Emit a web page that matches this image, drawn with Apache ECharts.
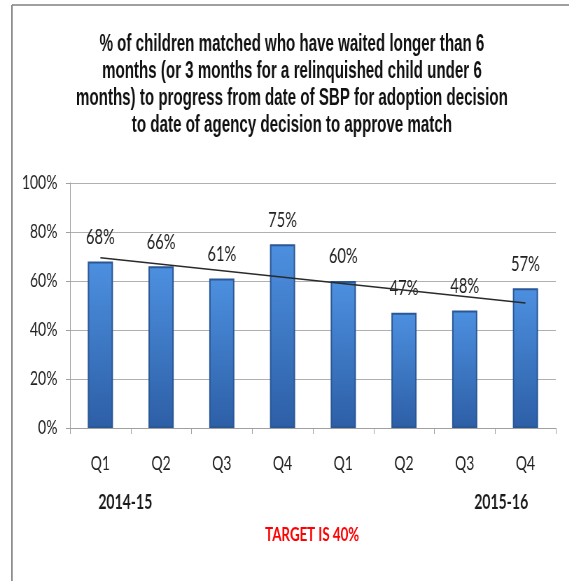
<!DOCTYPE html>
<html>
<head>
<meta charset="utf-8">
<script src="https://cdn.jsdelivr.net/npm/echarts@6/dist/echarts.min.js"></script>
<style>
  html, body { margin: 0; padding: 0; background: #fff; overflow: hidden; }
  /* original picture is horizontally squeezed, so draw wider then squeeze */
  #chart { width: 813px; height: 581px; transform: scaleX(0.7); transform-origin: 0 0; }
</style>
</head>
<body>
<div id="chart"></div>
<script>
  // 类目 / 数据
  var quarters = ['Q1', 'Q2', 'Q3', 'Q4', 'Q1', 'Q2', 'Q3', 'Q4'];
  var pctValues = [68, 66, 61, 75, 60, 47, 48, 57];
  // trend line, read at first and last quarter
  var trendEnds = [69.5, 51];
  var yTicks = [0, 20, 40, 60, 80, 100];

  var labelFont = 'Lato, "Open Sans", sans-serif';
  var titleFont = '"Liberation Sans", Arial, sans-serif';
  var titleText = '% of children matched who have waited longer than 6\nmonths (or 3 months for a relinquished child under 6\nmonths) to progress from date of SBP for adoption decision\nto date of agency decision to approve match';

  var trendData = quarters.map(function (q, i) {
    if (i === 0) return trendEnds[0];
    if (i === quarters.length - 1) return trendEnds[1];
    return null;
  });

  var myChart = echarts.init(document.getElementById('chart'));
  var option = {
    backgroundColor: '#ffffff',
    animation: false,
    grid: {
      left: 100,
      right: 19,
      top: 183,
      bottom: 153
    },
    xAxis: {
      type: 'category',
      data: quarters,
      boundaryGap: true,
      axisLine: { show: true, lineStyle: { color: '#a0a0a0', width: 1 } },
      axisTick: { show: true, length: 6, lineStyle: { color: '#a0a0a0' } },
      axisLabel: {
        margin: 26,
        fontFamily: labelFont,
        fontSize: 20,
        color: '#222'
      }
    },
    yAxis: {
      type: 'value',
      min: 0,
      max: 100,
      interval: 20,
      axisLine: { show: true, lineStyle: { color: '#a0a0a0' } },
      axisTick: { show: true, inside: false, length: 6, lineStyle: { color: '#a0a0a0' } },
      splitLine: { show: true, lineStyle: { color: '#b0b0b0', width: 1 } },
      axisLabel: {
        margin: 18,
        fontFamily: labelFont,
        fontSize: 20,
        color: '#222',
        formatter: function (v) { return yTicks.indexOf(v) >= 0 ? v + '%' : ''; }
      }
    },
    series: [
      {
        type: 'bar',
        data: pctValues,
        barWidth: 36,
        itemStyle: {
          color: new echarts.graphic.LinearGradient(0, 0, 0, 1, [
            { offset: 0, color: '#4d90e0' },
            { offset: 1, color: '#2d5fa6' }
          ]),
          borderColor: '#2a5796',
          borderWidth: 2
        },
        label: {
          show: true,
          position: 'top',
          distance: 14,
          formatter: '{c}%',
          fontFamily: labelFont,
          fontSize: 21,
          color: '#222'
        }
      },
      {
        type: 'line',
        data: trendData,
        connectNulls: true,
        symbol: 'none',
        lineStyle: { color: '#2a2a2a', width: 1.5 },
        z: 5
      }
    ],
    graphic: [
      { type: 'line', shape: { x1: 17, y1: 5, x2: 813, y2: 5 }, style: { stroke: '#808080', lineWidth: 1.5 } },
      { type: 'line', shape: { x1: 17, y1: 5, x2: 17, y2: 581 }, style: { stroke: '#808080', lineWidth: 2 } },
      // 标题 (narrow bold)
      {
        type: 'text', x: 417, y: 31, scaleX: 0.9,
        style: {
          text: titleText, fontFamily: titleFont, fontWeight: 'bold', fontSize: 24, lineHeight: 27,
          fill: '#111111', textAlign: 'center', textVerticalAlign: 'top'
        }
      },
      {
        type: 'text', x: 179, y: 503,
        style: { text: '2014-15', fontFamily: labelFont, fontWeight: 'bold', fontSize: 20, fill: '#1a1a1a', textAlign: 'center', textVerticalAlign: 'middle' }
      },
      {
        type: 'text', x: 716, y: 503,
        style: { text: '2015-16', fontFamily: labelFont, fontWeight: 'bold', fontSize: 20, fill: '#1a1a1a', textAlign: 'center', textVerticalAlign: 'middle' }
      },
      {
        type: 'text', x: 446, y: 535,
        style: { text: 'TARGET IS 40%', fontFamily: labelFont, fontWeight: 'bold', fontSize: 19, fill: '#ff0000', textAlign: 'center', textVerticalAlign: 'middle' }
      }
    ]
  };
  myChart.setOption(option);
</script>
</body>
</html>
